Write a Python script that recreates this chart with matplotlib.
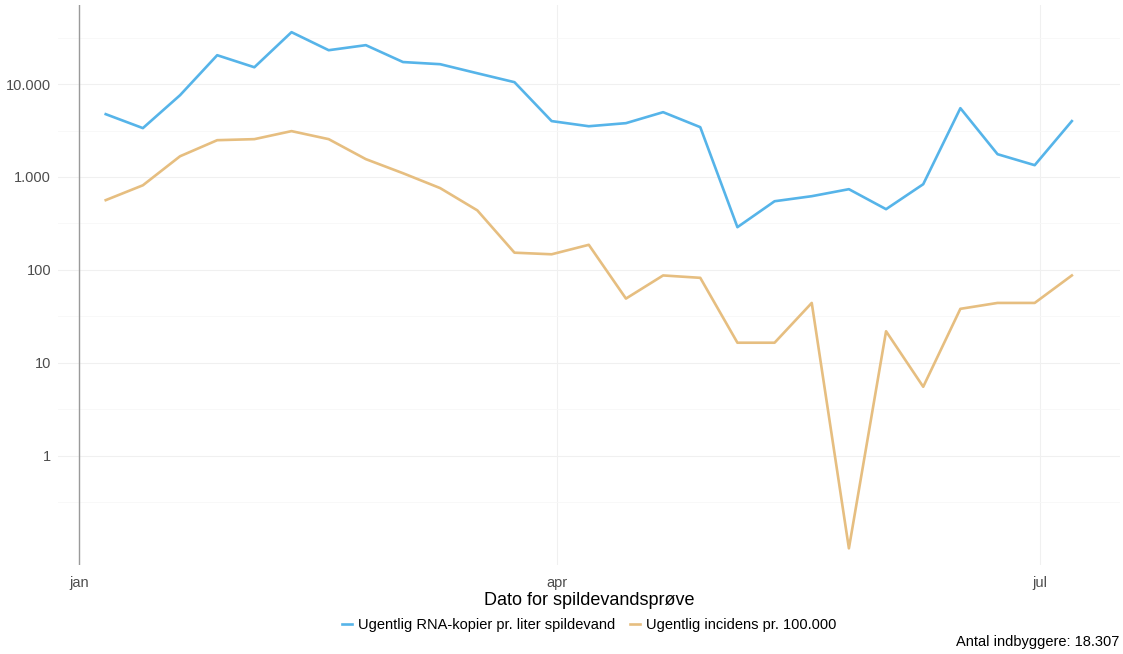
import numpy as np
import pandas as pd
import matplotlib
matplotlib.use("Agg")
import matplotlib.pyplot as plt
from matplotlib.ticker import FixedLocator, FuncFormatter

plt.rcParams["font.family"] = ["Liberation Sans", "DejaVu Sans"]

# weekly samples, 2022
dates = pd.date_range("2022-01-06", periods=27, freq="7D")

# RNA copies per liter wastewater
rna = [4750, 3360, 7600, 20500, 15200, 36300, 23200, 26300, 17300, 16400,
       13100, 10500, 4000, 3520, 3800, 4990, 3440, 288, 548, 621, 739, 450,
       836, 5510, 1760, 1340, 4000]

# weekly incidence per 100.000 (0 cases drawn at 0.1)
incidence = [563, 814, 1672, 2491, 2556, 3119, 2556, 1557, 1098, 759, 437,
             153, 147, 186, 49, 87, 82, 16.4, 16.4, 44, 0.1, 21.8, 5.5, 38,
             44, 44, 87]

labels = ["Ugentlig RNA-kopier pr. liter spildevand",
          "Ugentlig incidens pr. 100.000"]
colors = ["#56B4E9", "#E6BE80"]

yticks = [1, 10, 100, 1000, 10000]
xticks = pd.to_datetime(["2022-01-01", "2022-04-01", "2022-07-01"])
xticklabels = ["jan", "apr", "jul"]


def dk_fmt(v, pos):
    return f"{int(round(v)):,}".replace(",", ".")


fig = plt.figure(figsize=(11.23, 6.54), dpi=100)
ax = fig.add_axes([0.0516, 0.136, 0.9454, 0.856])

ax.plot(dates, rna, color=colors[0], lw=1.9, label=labels[0])
ax.plot(dates, incidence, color=colors[1], lw=1.9, label=labels[1])

ax.set_yscale("log")
ax.set_ylim(10 ** -1.18, 10 ** 4.85)
ax.set_xlim(pd.Timestamp("2021-12-28"), pd.Timestamp("2022-07-16"))

ax.yaxis.set_major_locator(FixedLocator(yticks))
ax.yaxis.set_major_formatter(FuncFormatter(dk_fmt))
minor = [10 ** (k + 0.5) for k in range(-2, 5)]
ax.yaxis.set_minor_locator(FixedLocator(minor))
ax.yaxis.set_minor_formatter(FuncFormatter(lambda v, p: ""))

ax.set_xticks(xticks)
ax.set_xticklabels(xticklabels)

ax.grid(True, which="major", color="#f0f0f0", lw=0.8)
ax.grid(True, which="minor", axis="y", color="#f7f7f7", lw=0.6)
ax.set_axisbelow(True)

for s in ax.spines.values():
    s.set_visible(False)
ax.axvline(pd.Timestamp("2022-01-01"), color="#9a9a9a", lw=1.0)

ax.tick_params(axis="both", which="both", length=0, colors="#4d4d4d",
               labelsize=10.5)
ax.tick_params(axis="x", pad=8)
ax.tick_params(axis="y", pad=5)

ax.set_xlabel("Dato for spildevandsprøve", fontsize=13, labelpad=1)

leg = ax.legend(loc="upper center", bbox_to_anchor=(0.5, -0.072), ncol=2,
                frameon=False, fontsize=10.5, handlelength=0.7,
                handletextpad=0.4, columnspacing=1.0)

fig.text(0.997, 0.008, "Antal indbyggere: 18.307", ha="right", va="bottom",
         fontsize=10.5)

fig.savefig("out.png", dpi=100)
